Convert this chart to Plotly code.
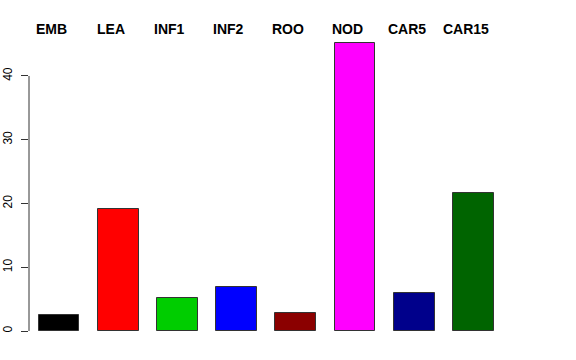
import plotly.graph_objects as go

categories = ["EMB", "LEA", "INF1", "INF2", "ROO", "NOD", "CAR5", "CAR15"]
values = [2.5, 19.2, 5.1, 6.9, 2.9, 45.2, 6.0, 21.7]
bar_colors = ["#000000", "#FF0000", "#00CD00", "#0000FF", "#8B0000", "#FF00FF", "#00008B", "#006400"]
y_ticks = [0, 10, 20, 30, 40]

positions = list(range(len(categories)))
label_shift = -0.13

fig = go.Figure()
fig.add_trace(go.Bar(
    x=positions, y=values, width=0.69,
    marker=dict(color=bar_colors, line=dict(color="#333333", width=1)),
    hoverinfo="skip",
))

for p, c in zip(positions, categories):
    fig.add_annotation(
        x=p + label_shift, xref="x", y=1.0097, yref="paper",
        text="<b>" + c + "</b>", showarrow=False,
        xanchor="center", yanchor="middle",
        font=dict(family="Liberation Sans, Arial, sans-serif", size=14, color="#000000"),
    )

fig.add_shape(type="line", xref="paper", yref="y", x0=0, x1=0,
              y0=y_ticks[0], y1=y_ticks[-1], line=dict(color="#333333", width=1))

fig.update_layout(
    width=576, height=360,
    margin=dict(l=29, r=30, t=32, b=18, autoexpand=False),
    plot_bgcolor="white", paper_bgcolor="white",
    showlegend=False,
    font=dict(family="Liberation Sans, Arial, sans-serif", size=12, color="#000000"),
    xaxis=dict(range=[-0.507, 8.226], showticklabels=False, showgrid=False,
               zeroline=False, showline=False, ticks="", automargin=False),
    yaxis=dict(range=[-1.725, 46.90], tickvals=y_ticks, ticktext=[str(t) for t in y_ticks],
               tickangle=-90, ticks="outside", ticklen=7, tickcolor="#333333",
               showgrid=False, zeroline=False, showline=False, automargin=False,
               ticklabelstandoff=4,
               tickfont=dict(size=12, color="#000000")),
    bargap=0,
)

fig.write_html("out.html")
